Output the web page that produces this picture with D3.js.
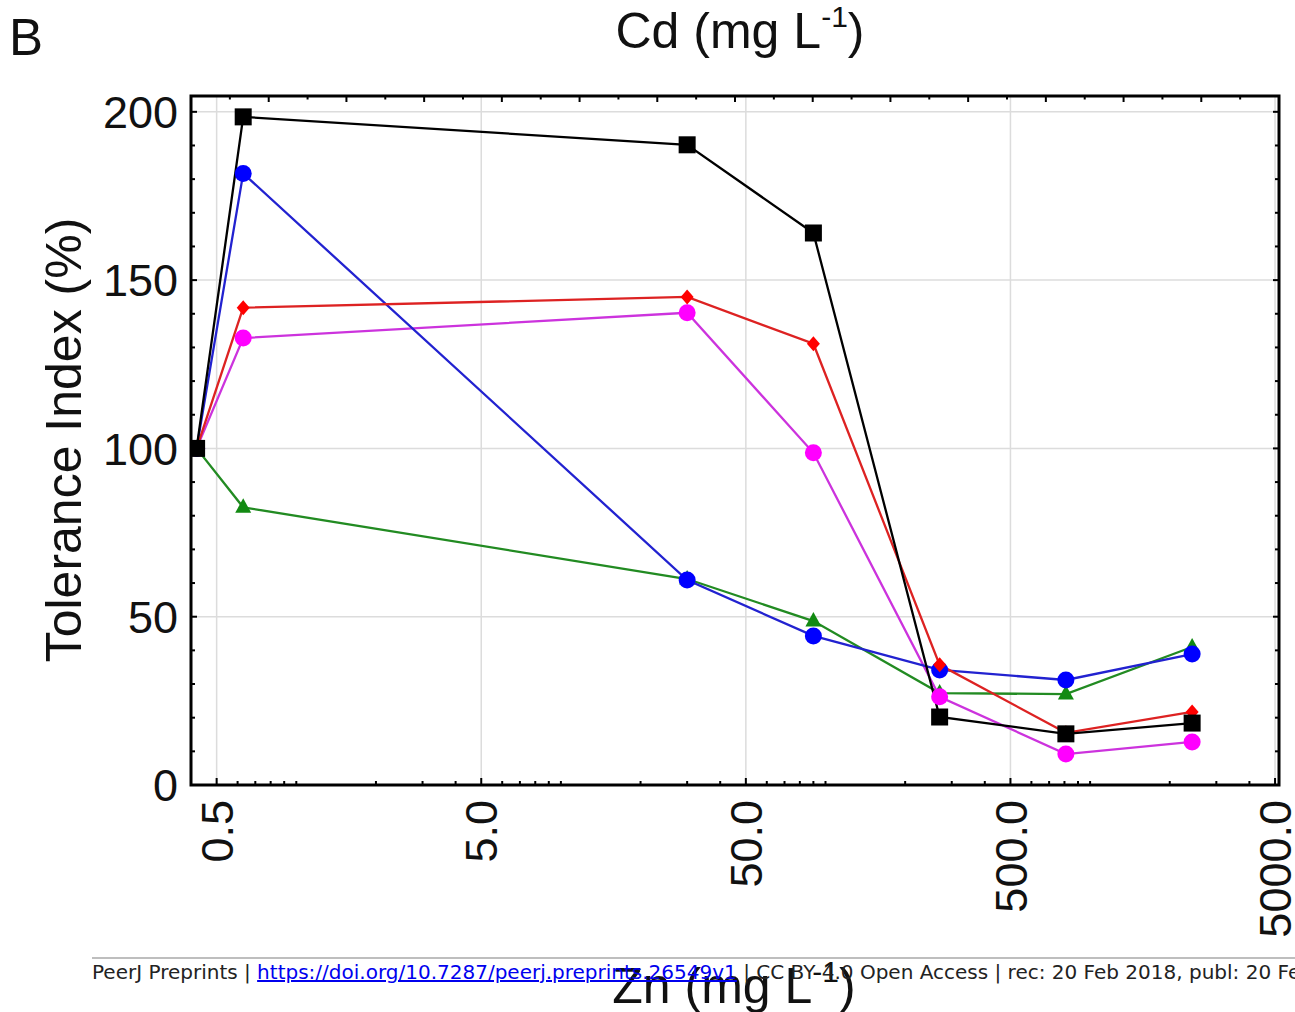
<!DOCTYPE html>
<html><head><meta charset="utf-8">
<script src="https://cdn.jsdelivr.net/npm/d3@7"></script>
<style>html,body{margin:0;padding:0;background:#fff;}svg{display:block;}</style>
</head><body>
<svg id="chart" width="1295" height="1012"></svg>
<script>
// ---- data ----
const zn = [0.42, 0.63, 30, 90, 270, 810, 2430];
const seriesBlack   = [100, 198.5, 190.2, 164.0, 20.2, 15.2, 18.4];
const seriesBlue    = [100, 181.7, 60.9, 44.3, 34.2, 31.2, 38.9];
const seriesRed     = [100, 141.8, 145.0, 131.1, 35.7, 15.5, 21.7];
const seriesMagenta = [100, 132.8, 140.3, 98.7, 26.2, 9.2, 12.8];
const seriesGreen   = [100, 82.5, 61.2, 48.7, 27.3, 27.0, 41.0];
const xTickLabels = ["0.5", "5.0", "50.0", "500.0", "5000.0"];
const xTickValues = [0.5, 5, 50, 500, 5000];
const yTickValues = [0, 50, 100, 150, 200];
const minorFactors = [1.2, 1.4, 1.6, 1.8, 2, 4, 6, 8];

const svg = d3.select("#chart");
const L = 191, R = 1279, T = 96, B = 785;
const x = d3.scaleLog().domain([0.4, 5175]).range([L, R]);
const y = d3.scaleLinear().domain([0, 204.7]).range([B, T]);
const cd = d3.scaleLinear().domain([0, 14]).range([L, R]);

svg.append("rect").attr("width",1295).attr("height",1012).attr("fill","#fff");

// gridlines
const grid = svg.append("g").attr("stroke","#dcdcdc").attr("stroke-width",1.5);
xTickValues.forEach(v => grid.append("line").attr("x1",x(v)).attr("x2",x(v)).attr("y1",T).attr("y2",B));
yTickValues.filter(v=>v>0).forEach(v => grid.append("line").attr("x1",L).attr("x2",R).attr("y1",y(v)).attr("y2",y(v)));

// clip
svg.append("clipPath").attr("id","plotclip").append("rect")
  .attr("x",L).attr("y",T).attr("width",R-L).attr("height",B-T);

// series
const series = [
  {vals: seriesGreen,   line:"#228b22", fill:"#128a12", shape:"tri"},
  {vals: seriesMagenta, line:"#cc33dd", fill:"#ff00ff", shape:"circle"},
  {vals: seriesBlue,    line:"#2222d0", fill:"#0000ff", shape:"circle"},
  {vals: seriesRed,     line:"#dd2222", fill:"#ff0000", shape:"diamond"},
  {vals: seriesBlack,   line:"#000000", fill:"#000000", shape:"square"}
];
const plot = svg.append("g").attr("clip-path","url(#plotclip)");
const lineGen = d3.line().x(d=>x(d[0])).y(d=>y(d[1]));
series.forEach(s => {
  const pts = zn.map((z,i)=>[z, s.vals[i]]);
  plot.append("path").attr("d", lineGen(pts)).attr("fill","none")
    .attr("stroke", s.line).attr("stroke-width",2.3);
});
series.forEach(s => {
  const pts = zn.map((z,i)=>[z, s.vals[i]]);
  pts.forEach(p => {
    const cx = x(p[0]), cy = y(p[1]);
    if (s.shape === "circle") {
      plot.append("circle").attr("cx",cx).attr("cy",cy).attr("r",8.5).attr("fill",s.fill);
    } else if (s.shape === "square") {
      plot.append("rect").attr("x",cx-8.5).attr("y",cy-8.5).attr("width",17).attr("height",17).attr("fill",s.fill);
    } else if (s.shape === "diamond") {
      plot.append("path").attr("d",`M${cx},${cy-7.5}L${cx+6.5},${cy}L${cx},${cy+7.5}L${cx-6.5},${cy}Z`).attr("fill",s.fill);
    } else {
      plot.append("path").attr("d",`M${cx},${cy-9}L${cx+8},${cy+5.5}L${cx-8},${cy+5.5}Z`).attr("fill",s.fill);
    }
  });
});

// ticks
const ticks = svg.append("g").attr("stroke","#000").attr("stroke-width",2);
xTickValues.forEach(v => ticks.append("line").attr("x1",x(v)).attr("x2",x(v)).attr("y1",B).attr("y2",B-7));
xTickValues.slice(0,4).forEach(v => minorFactors.forEach(f => {
  const xv = x(v*f);
  ticks.append("line").attr("x1",xv).attr("x2",xv).attr("y1",B).attr("y2",B-4);
}));
d3.range(1,14).forEach(v => ticks.append("line").attr("x1",cd(v)).attr("x2",cd(v)).attr("y1",T).attr("y2",T+6));
d3.range(0.5,14,1).forEach(v => ticks.append("line").attr("x1",cd(v)).attr("x2",cd(v)).attr("y1",T).attr("y2",T+3.5));
d3.range(10,201,10).forEach(v => {
  const len = (v % 50 === 0) ? 6 : 4;
  ticks.append("line").attr("x1",L).attr("x2",L+len).attr("y1",y(v)).attr("y2",y(v));
  ticks.append("line").attr("x1",R).attr("x2",R-len).attr("y1",y(v)).attr("y2",y(v));
});

// frame
svg.append("rect").attr("x",L).attr("y",T).attr("width",R-L).attr("height",B-T)
  .attr("fill","none").attr("stroke","#000").attr("stroke-width",3);

const font = "'Liberation Sans', Arial, sans-serif";
yTickValues.forEach(v => svg.append("text").attr("x",178).attr("y",y(v)).attr("dy","0.36em")
  .attr("text-anchor","end").attr("font-family",font).attr("font-size",45).attr("fill","#111").text(String(v)));
xTickValues.forEach((v,i) => svg.append("text")
  .attr("transform",`translate(${x(v)},800) rotate(-90)`).attr("dy","0.36em")
  .attr("text-anchor","end").attr("font-family",font).attr("font-size",45).attr("fill","#111").text(xTickLabels[i]));

svg.append("text").attr("transform","translate(81,440) rotate(-90)").attr("text-anchor","middle")
  .attr("font-family",font).attr("font-size",50).attr("fill","#111").text("Tolerance Index (%)");

function unitLabel(sel, name) {
  sel.append("tspan").text(name + " (mg L");
  sel.append("tspan").attr("font-size",30).attr("dy",-21).text("-1");
  sel.append("tspan").attr("dy",21).text(")");
}
const title = svg.append("text").attr("x",740).attr("y",48).attr("text-anchor","middle")
  .attr("font-family",font).attr("font-size",50).attr("fill","#111");
unitLabel(title, "Cd");
const xl = svg.append("text").attr("x",734).attr("y",1003).attr("text-anchor","middle")
  .attr("font-family",font).attr("font-size",50).attr("fill","#111");
unitLabel(xl, "Zn");

svg.append("text").attr("x",9).attr("y",55).attr("font-family",font).attr("font-size",51).attr("fill","#111").text("B");

svg.append("line").attr("x1",92).attr("x2",1295).attr("y1",958).attr("y2",958).attr("stroke","#a8a8a8").attr("stroke-width",1.5);
const ft = svg.append("text").attr("x",92).attr("y",979).attr("font-family","'DejaVu Sans', sans-serif")
  .attr("font-size",20).attr("fill","#222");
ft.append("tspan").text("PeerJ Preprints | ");
ft.append("tspan").attr("fill","#0000ee").attr("text-decoration","underline").text("https://doi.org/10.7287/peerj.preprints.26549v1");
ft.append("tspan").text(" | CC BY 4.0 Open Access | rec: 20 Feb 2018, publ: 20 Feb 2018");
</script>
</body></html>
